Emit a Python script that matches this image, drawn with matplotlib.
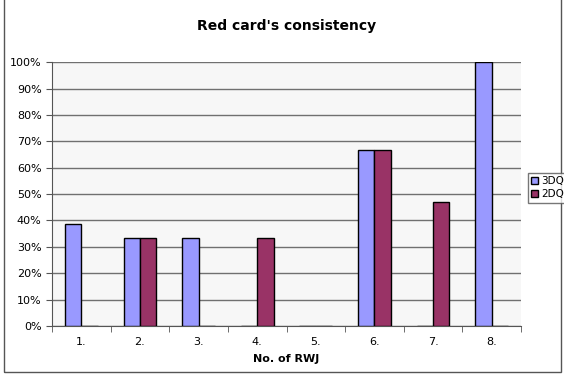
import numpy as np
import matplotlib.pyplot as plt
from matplotlib.patches import Rectangle
from matplotlib.ticker import PercentFormatter

categories = ['1.', '2.', '3.', '4.', '5.', '6.', '7.', '8.']
dq3 = [38.5, 33.3, 33.3, 0, 0, 66.7, 0, 100]
dq2 = [0, 33.3, 0, 33.3, 0, 66.7, 47, 0]

fig = plt.figure(figsize=(5.64, 3.78), dpi=100)
ax = fig.add_axes([0.0922, 0.1376, 0.8316, 0.698])

x = np.arange(1, len(categories) + 1)
w = 0.28
ax.bar(x - w/2, dq3, w, color='#9999ff', edgecolor='black', linewidth=1, label='3DQ', zorder=3)
ax.bar(x + w/2, dq2, w, color='#993366', edgecolor='black', linewidth=1, label='2DQ', zorder=3)

ax.set_xlim(0.5, 8.5)
ax.set_ylim(0, 100)
ax.set_facecolor('#f7f7f7')
ax.set_yticks(np.arange(0, 101, 10))
ax.yaxis.set_major_formatter(PercentFormatter(decimals=0))
ax.set_xticks(x)
ax.set_xticklabels(categories)
ax.set_xticks(np.arange(0.5, 9, 1), minor=True)
ax.tick_params(axis='x', which='major', length=0, pad=8, labelsize=8)
ax.tick_params(axis='x', which='minor', length=4, color='#555555')
ax.tick_params(axis='y', length=4, color='#555555', labelsize=8)
ax.grid(axis='y', color='#707070', linewidth=1, zorder=0)
ax.set_axisbelow(True)
for s in ['top', 'right']:
    ax.spines[s].set_visible(False)
for s in ['left', 'bottom']:
    ax.spines[s].set_color('#555555')

ax.set_title("Red card's consistency", fontsize=10, fontweight='bold', pad=23)
ax.set_xlabel('No. of RWJ', fontsize=8, fontweight='bold', labelpad=5)

leg = fig.legend(loc='center left', bbox_to_anchor=(0.936, 0.503), fontsize=7.5,
                 frameon=True, fancybox=False, edgecolor='#555555',
                 handlelength=0.7, handleheight=0.7, handletextpad=0.3,
                 borderpad=0.3, labelspacing=0.3, borderaxespad=0)

fig.patches.append(Rectangle((0.007, 0.015), 0.988, 1.2, transform=fig.transFigure,
                             fill=False, edgecolor='#555555', linewidth=1))

fig.savefig('out.png', dpi=100)
